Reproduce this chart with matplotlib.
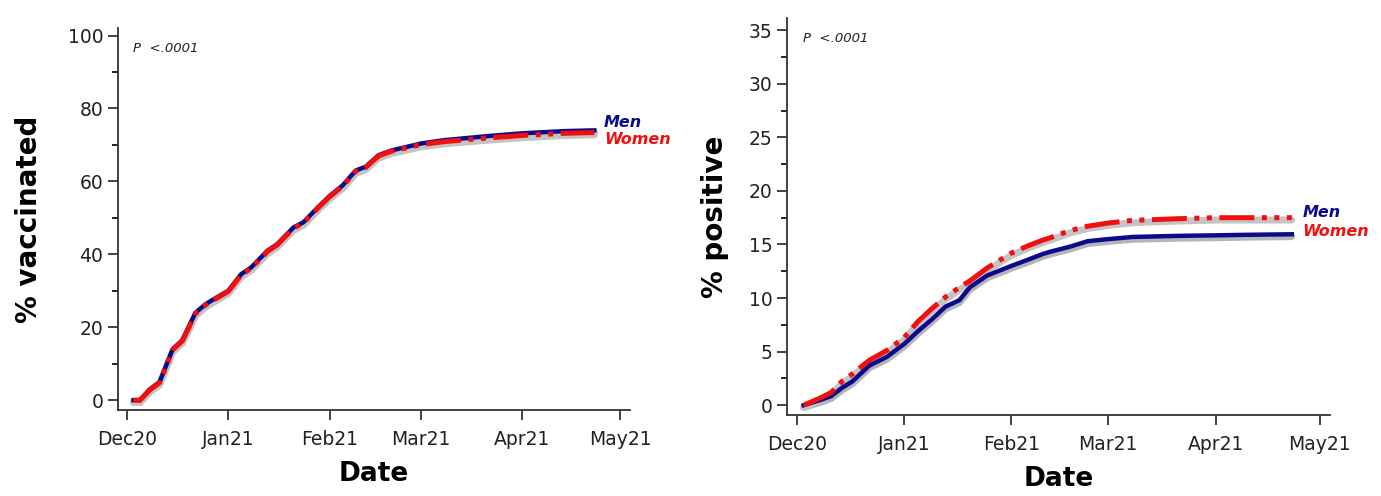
import matplotlib
matplotlib.use("Agg")
import matplotlib.pyplot as plt
import matplotlib.dates as mdates
from matplotlib.ticker import MultipleLocator
import numpy as np
import pandas as pd

# % vaccinated (left panel)
vac_dates = ["2020-12-03", "2020-12-05", "2020-12-08", "2020-12-11", "2020-12-15",
             "2020-12-18", "2020-12-22", "2020-12-25", "2020-12-30", "2021-01-01",
             "2021-01-05", "2021-01-08", "2021-01-13", "2021-01-16", "2021-01-21",
             "2021-01-24", "2021-01-28", "2021-02-01", "2021-02-05", "2021-02-09",
             "2021-02-12", "2021-02-16", "2021-02-20", "2021-03-01", "2021-03-08",
             "2021-03-21", "2021-04-01", "2021-04-14", "2021-04-23"]
vac_men = [0.0, 0.0, 3.0, 5.0, 14.0, 16.5, 24.0, 26.3, 29.0, 30.0,
           34.6, 36.4, 41.0, 42.8, 47.4, 48.8, 52.5, 56.0, 58.9, 63.0,
           64.0, 67.2, 68.5, 70.4, 71.3, 72.4, 73.2, 73.8, 74.0]
vac_women = [0.0, 0.0, 2.8, 4.8, 13.8, 16.3, 23.8, 26.1, 28.8, 29.8,
             34.4, 36.2, 40.8, 42.6, 47.2, 48.6, 52.3, 55.8, 58.7, 62.8,
             63.8, 67.0, 68.3, 70.1, 70.9, 71.9, 72.6, 73.2, 73.4]

# % positive (right panel)
pos_dates = ["2020-12-03", "2020-12-08", "2020-12-11", "2020-12-14", "2020-12-17",
             "2020-12-22", "2020-12-27", "2021-01-01", "2021-01-05", "2021-01-09",
             "2021-01-13", "2021-01-17", "2021-01-20", "2021-01-25", "2021-02-01",
             "2021-02-06", "2021-02-10", "2021-02-12", "2021-02-18", "2021-02-23",
             "2021-03-01", "2021-03-08", "2021-03-21", "2021-04-01", "2021-04-10",
             "2021-04-23"]
pos_men = [0.0, 0.5, 0.85, 1.6, 2.2, 3.7, 4.5, 5.7, 6.9, 8.0,
           9.2, 9.8, 11.0, 12.1, 13.0, 13.6, 14.1, 14.3, 14.8, 15.3,
           15.5, 15.7, 15.8, 15.85, 15.9, 15.95]
pos_women = [0.0, 0.7, 1.2, 2.2, 2.9, 4.2, 5.1, 6.3, 7.8, 9.0,
             10.1, 11.0, 11.6, 12.8, 14.2, 14.9, 15.4, 15.6, 16.3, 16.7,
             17.0, 17.25, 17.4, 17.5, 17.5, 17.5]

panels = [
    dict(dates=vac_dates, men=vac_men, women=vac_women, ylabel="% vaccinated",
         ylim=(-2.75, 102), major=20, minor=10,
         rect=[0.0854, 0.173, 0.371, 0.77], lab_y=(76.2, 71.6), ypad=18),
    dict(dates=pos_dates, men=pos_men, women=pos_women, ylabel="% positive",
         ylim=(-0.93, 36.1), major=5, minor=2.5,
         rect=[0.570, 0.163, 0.393, 0.80], lab_y=(17.95, 16.25), ypad=14),
]

fig = plt.figure(figsize=(13.81, 4.96), dpi=100)

for p in panels:
    ax = fig.add_axes(p["rect"])
    d = pd.to_datetime(p["dates"])
    men = np.array(p["men"])
    women = np.array(p["women"])
    off = 0.006 * (p["ylim"][1] - p["ylim"][0])

    # grey shadow under the curves
    ax.plot(d, men - off, color="#b5b5b5", lw=5, solid_capstyle="round", zorder=1)
    ax.plot(d, women - off, color="#c4c4c4", lw=5, solid_capstyle="round", zorder=1)
    ax.plot(d, men, color="#0a0a8c", lw=3.2, zorder=2)
    ax.plot(d, women, color="#f01010", lw=3.6, dashes=(7, 1.5, 1, 1.5, 1, 1.5), zorder=3)

    ax.set_xlim(pd.Timestamp("2020-11-28 06:00"), pd.Timestamp("2021-05-04"))
    ax.set_ylim(*p["ylim"])
    ax.xaxis.set_major_locator(mdates.MonthLocator())
    ax.xaxis.set_major_formatter(mdates.DateFormatter("%b%y"))
    ax.yaxis.set_major_locator(MultipleLocator(p["major"]))
    ax.yaxis.set_minor_locator(MultipleLocator(p["minor"]))
    ax.tick_params(axis="both", which="major", direction="out", length=7, width=1.2,
                   labelsize=13.5, colors="#222222")
    ax.tick_params(axis="y", which="minor", direction="out", length=4, width=1.2)
    ax.tick_params(axis="x", pad=7)

    for s in ["top", "right"]:
        ax.spines[s].set_visible(False)
    for s in ["left", "bottom"]:
        ax.spines[s].set_linewidth(1.3)
        ax.spines[s].set_color("#333333")

    ax.set_xlabel("Date", fontsize=19, fontweight="bold", labelpad=9)
    ax.set_ylabel(p["ylabel"], fontsize=20, fontweight="bold", labelpad=p["ypad"])

    ax.text(0.03, 0.965, "P  <.0001", transform=ax.transAxes, fontsize=9.5,
            style="italic", va="top", ha="left", color="#222222")

    xl = pd.Timestamp("2021-04-26")
    ax.text(xl, p["lab_y"][0], "Men", color="#0a0a8c", fontsize=11.5, fontweight="bold",
            style="italic", va="center", ha="left")
    ax.text(xl, p["lab_y"][1], "Women", color="#f01010", fontsize=11.5, fontweight="bold",
            style="italic", va="center", ha="left")

fig.savefig("out.png", dpi=100)
